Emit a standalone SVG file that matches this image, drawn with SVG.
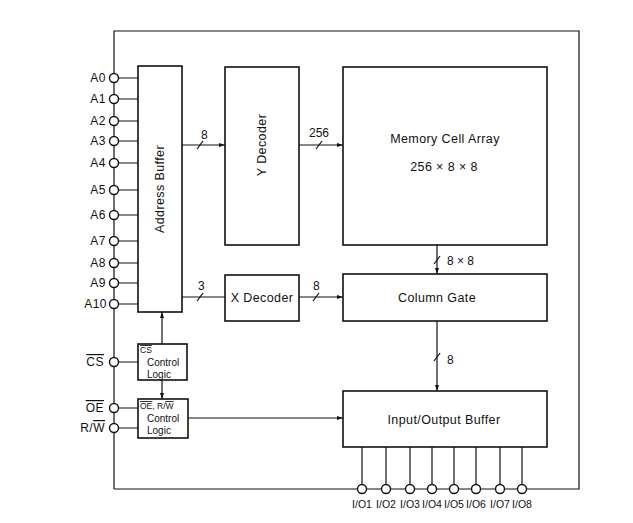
<svg xmlns="http://www.w3.org/2000/svg" width="633" height="523" viewBox="0 0 633 523">
<style>
.box{fill:#fff;stroke:#111;stroke-width:1.6}
.ln{fill:none;stroke:#111;stroke-width:1.2}
.pin{fill:#fff;stroke:#111;stroke-width:1.4}
text{font-family:"Liberation Sans",Arial,sans-serif;fill:#111}
.lb{font-size:12.5px;letter-spacing:0.4px}
.pl{font-size:12px;text-anchor:end;letter-spacing:0.5px}
.io{font-size:10.5px;text-anchor:middle}
.sm{font-size:12px}
.cl{font-size:10px}
.ov{text-decoration:overline}
</style>
<defs>
<marker id="ar" viewBox="0 0 6 6" refX="6" refY="3" markerWidth="6" markerHeight="6" orient="auto" markerUnits="userSpaceOnUse">
<path d="M0,1 L6,3 L0,5 Z" fill="#111"/>
</marker>
</defs>
<rect width="633" height="523" fill="#fff"/>
<g id="connectors">
<path class="ln" d="M114,74 V31 H579 V489 H526"/>
<path class="ln" d="M114,489 H358"/>
<path class="ln" d="M366,489 H382 M390,489 H406 M414,489 H428 M436,489 H450 M458,489 H472 M480,489 H496 M504,489 H518"/>
<path class="ln" d="M114,83 V94 M114,104 V116 M114,126 V136 M114,146 V158 M114,168 V185 M114,195 V210 M114,220 V236 M114,246 V258 M114,268 V278 M114,288 V299 M114,309 V357 M114,367 V403 M114,413 V423 M114,433 V489"/>
<path class="ln" d="M118.5,78 H138 M118.5,99 H138 M118.5,121 H138 M118.5,141 H138 M118.5,163 H138 M118.5,190 H138 M118.5,215 H138 M118.5,241 H138 M118.5,263 H138 M118.5,283 H138 M118.5,304 H138"/>
<path class="ln" d="M118.5,362 H138 M118.5,408 H138 M118.5,428 H138"/>
<path class="ln" d="M182,145 H225" marker-end="url(#ar)"/>
<path class="ln" d="M197,149 L203,141"/>
<text class="sm" x="201" y="139">8</text>
<path class="ln" d="M299,145 H343" marker-end="url(#ar)"/>
<path class="ln" d="M316,149 L322,141"/>
<text class="sm" x="309" y="137">256</text>
<path class="ln" d="M182,297 H225"/>
<path class="ln" d="M197,301 L203,293"/>
<text class="sm" x="198" y="290">3</text>
<path class="ln" d="M299,297 H343" marker-end="url(#ar)"/>
<path class="ln" d="M313,301 L319,293"/>
<text class="sm" x="313" y="290">8</text>
<path class="ln" d="M437,245 V274" marker-end="url(#ar)"/>
<path class="ln" d="M434,264 L440,256"/>
<text class="sm" x="447" y="265">8 × 8</text>
<path class="ln" d="M437,321 V391" marker-end="url(#ar)"/>
<path class="ln" d="M434,361 L440,353"/>
<text class="sm" x="447" y="364">8</text>
<path class="ln" d="M162,344 V312" marker-end="url(#ar)"/>
<path class="ln" d="M162,380 V399" marker-end="url(#ar)"/>
<path class="ln" d="M188,418 H343" marker-end="url(#ar)"/>
<path class="ln" d="M362,447 V484.5 M386,447 V484.5 M410,447 V484.5 M432,447 V484.5 M454,447 V484.5 M476,447 V484.5 M500,447 V484.5 M522,447 V484.5"/>
</g>
<g id="pins">
<circle class="pin" cx="114" cy="78" r="4.5"/>
<circle class="pin" cx="114" cy="99" r="4.5"/>
<circle class="pin" cx="114" cy="121" r="4.5"/>
<circle class="pin" cx="114" cy="141" r="4.5"/>
<circle class="pin" cx="114" cy="163" r="4.5"/>
<circle class="pin" cx="114" cy="190" r="4.5"/>
<circle class="pin" cx="114" cy="215" r="4.5"/>
<circle class="pin" cx="114" cy="241" r="4.5"/>
<circle class="pin" cx="114" cy="263" r="4.5"/>
<circle class="pin" cx="114" cy="283" r="4.5"/>
<circle class="pin" cx="114" cy="304" r="4.5"/>
<circle class="pin" cx="114" cy="362" r="4.5"/>
<circle class="pin" cx="114" cy="408" r="4.5"/>
<circle class="pin" cx="114" cy="428" r="4.5"/>
<text class="pl" x="106" y="82">A0</text>
<text class="pl" x="106" y="103">A1</text>
<text class="pl" x="106" y="125">A2</text>
<text class="pl" x="106" y="145">A3</text>
<text class="pl" x="106" y="167">A4</text>
<text class="pl" x="106" y="194">A5</text>
<text class="pl" x="106" y="219">A6</text>
<text class="pl" x="106" y="245">A7</text>
<text class="pl" x="106" y="267">A8</text>
<text class="pl" x="106" y="287">A9</text>
<text class="pl" x="107" y="308">A10</text>
<text class="pl ov" x="104" y="366">CS</text>
<text class="pl ov" x="104" y="412">OE</text>
<text class="pl" x="105" y="432">R/<tspan class="ov">W</tspan></text>
<circle class="pin" cx="362" cy="489" r="4.5"/>
<circle class="pin" cx="386" cy="489" r="4.5"/>
<circle class="pin" cx="410" cy="489" r="4.5"/>
<circle class="pin" cx="432" cy="489" r="4.5"/>
<circle class="pin" cx="454" cy="489" r="4.5"/>
<circle class="pin" cx="476" cy="489" r="4.5"/>
<circle class="pin" cx="500" cy="489" r="4.5"/>
<circle class="pin" cx="522" cy="489" r="4.5"/>
<text class="io" x="362" y="508">I/O1</text>
<text class="io" x="386" y="508">I/O2</text>
<text class="io" x="410" y="508">I/O3</text>
<text class="io" x="432" y="508">I/O4</text>
<text class="io" x="454" y="508">I/O5</text>
<text class="io" x="476" y="508">I/O6</text>
<text class="io" x="500" y="508">I/O7</text>
<text class="io" x="522" y="508">I/O8</text>
</g>
<g id="address-buffer">
<rect class="box" x="138" y="66" width="44" height="246"/>
<text class="lb" transform="translate(164,189) rotate(-90)" text-anchor="middle">Address Buffer</text>
</g>
<g id="y-decoder">
<rect class="box" x="225" y="67" width="74" height="178"/>
<text class="lb" transform="translate(266,145) rotate(-90)" text-anchor="middle">Y Decoder</text>
</g>
<g id="memory-cell-array">
<rect class="box" x="343" y="67" width="204" height="178"/>
<text class="lb" x="445" y="143" text-anchor="middle">Memory Cell Array</text>
<text class="lb" x="444" y="171" text-anchor="middle">256 × 8 × 8</text>
</g>
<g id="x-decoder">
<rect class="box" x="225" y="275" width="74" height="46"/>
<text class="lb" x="262" y="302" text-anchor="middle">X Decoder</text>
</g>
<g id="column-gate">
<rect class="box" x="343" y="274" width="204" height="47"/>
<text class="lb" x="437" y="302" text-anchor="middle">Column Gate</text>
</g>
<g id="io-buffer">
<rect class="box" x="343" y="391" width="204" height="56"/>
<text class="lb" x="444" y="424" text-anchor="middle">Input/Output Buffer</text>
</g>
<g id="cs-control">
<rect class="box" x="138" y="344" width="49" height="36"/>
<text class="ov" x="140" y="353" font-size="8.5">CS</text>
<text class="cl" x="147" y="366">Control</text>
<text class="cl" x="147" y="378">Logic</text>
</g>
<g id="oe-rw-control">
<rect class="box" x="138" y="399" width="50" height="39"/>
<text x="140" y="409" font-size="8.5"><tspan class="ov">OE</tspan>, R/<tspan class="ov">W</tspan></text>
<text class="cl" x="147" y="422">Control</text>
<text class="cl" x="147" y="434">Logic</text>
</g>
</svg>
